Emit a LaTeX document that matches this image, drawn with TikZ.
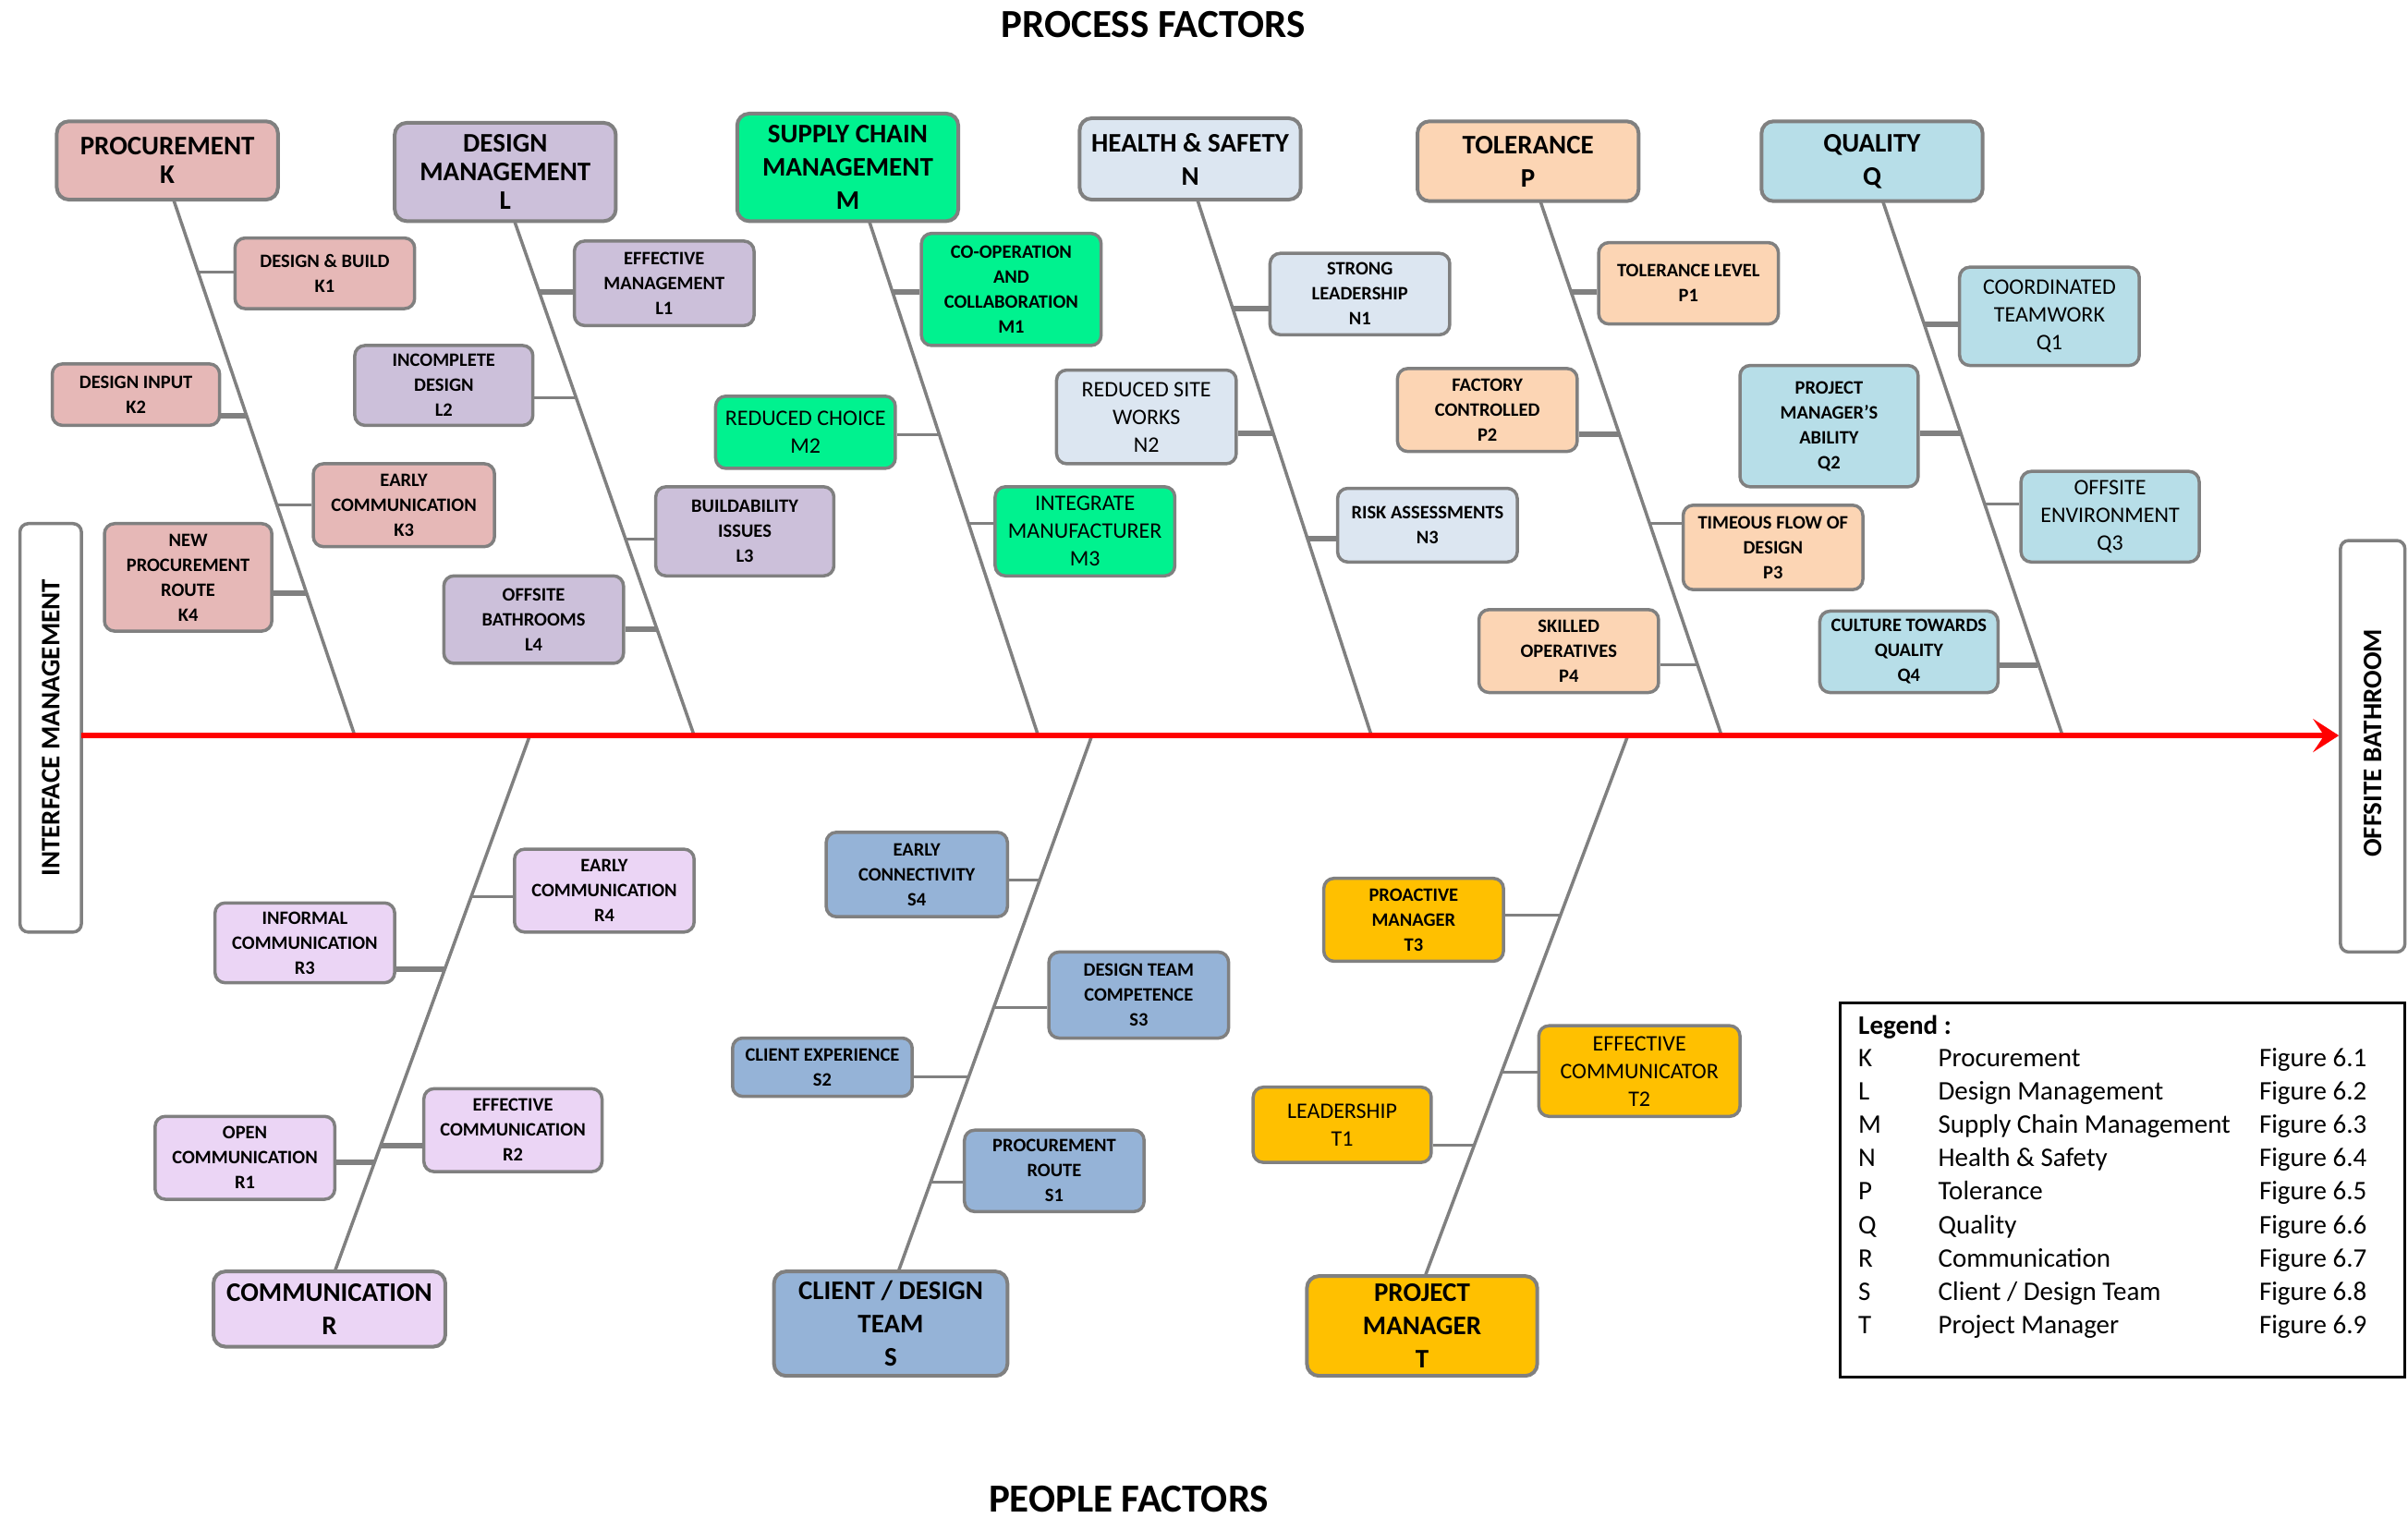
\documentclass[tikz,border=0pt]{standalone}
\usepackage{fontspec}
\setmainfont{Carlito}
\usetikzlibrary{arrows.meta}

\definecolor{bordergray}{HTML}{808080}
\definecolor{bonegray}{HTML}{808080}
\definecolor{kfill}{HTML}{E6B8B7}
\definecolor{lfill}{HTML}{CCC0DA}
\definecolor{mfill}{HTML}{00F28F}
\definecolor{nfill}{HTML}{DCE6F1}
\definecolor{pfill}{HTML}{FCD5B4}
\definecolor{qfill}{HTML}{B7DEE8}
\definecolor{rfill}{HTML}{EBD5F5}
\definecolor{sfill}{HTML}{95B3D7}
\definecolor{tfill}{HTML}{FFC000}

% a box given by its corners (x1,y1) and (x2,y2)
\newcommand\causebox[7]{%
  \node[#2, minimum width={(#5-#3)*1.662pt}, minimum height={(#6-#4)*1.662pt}]
    (#1) at ({(#3+#5)/2},{(#4+#6)/2}) {#7};}

\tikzset{
  box/.style={draw=bordergray, rounded corners=13pt, align=center, inner sep=0pt, text=black},
  mainbox/.style={box, line width=4pt, font=\fontsize{29}{31}\selectfont\bfseries},
  mainboxw/.style={box, line width=4pt, font=\fontsize{29}{36}\selectfont\bfseries},
  subs/.style={box, line width=3.5pt, rounded corners=11pt, font=\fontsize{20.5}{27}\selectfont\bfseries},
  subl/.style={box, line width=3.5pt, rounded corners=11pt, font=\fontsize{24}{30}\selectfont},
  sidebox/.style={box, line width=3.5pt, fill=white, rounded corners=9pt},
  bone/.style={draw=bonegray, line width=3.5pt},
  twig/.style={draw=bonegray, line width=3pt},
  twigthick/.style={draw=bonegray, line width=6pt},
  spine/.style={draw=red, line width=6pt, -{Stealth[length=28pt, width=36pt, inset=12pt]}},
  title/.style={inner sep=0pt, font=\fontsize{43}{46}\selectfont\bfseries},
  legtext/.style={anchor=base west, inner sep=0pt, font=\fontsize{29}{31}\selectfont},
}

\begin{document}
\begin{tikzpicture}[x=1.662pt, y=-1.662pt]
\useasboundingbox (0,0) rectangle (1568,988);

% titles
\node[title] (proc) at (751,16) {PROCESS FACTORS};
\node[title] (people) at (735,976) {PEOPLE FACTORS};

% head and tail boxes
\causebox{IM}{sidebox}{13}{341}{53}{607}{}
\node[rotate=90, font=\fontsize{29}{31}\selectfont\bfseries] (IMt) at (IM.center) {INTERFACE MANAGEMENT};
\causebox{OB}{sidebox}{1524}{352}{1566}{620}{}
\node[rotate=90, font=\fontsize{29}{31}\selectfont\bfseries] (OBt) at (1545,484) {OFFSITE BATHROOM};

% main causes
\causebox{K}{mainbox, fill=kfill}{37}{79}{181}{130}{PROCUREMENT\\K}
\causebox{L}{mainbox, fill=lfill}{257}{80}{401}{144}{DESIGN\\MANAGEMENT\\L}
\causebox{M}{mainboxw, fill=mfill}{480}{74}{624}{144}{SUPPLY CHAIN\\MANAGEMENT\\M}
\causebox{N}{mainboxw, fill=nfill}{703}{77}{847}{130}{HEALTH \& SAFETY\\N}
\causebox{P}{mainboxw, fill=pfill}{923}{79}{1067}{131}{TOLERANCE\\P}
\causebox{Q}{mainboxw, fill=qfill}{1147}{79}{1291}{131}{QUALITY\\Q}
\causebox{R}{mainboxw, fill=rfill}{139}{828}{290}{877}{COMMUNICATION\\R}
\causebox{S}{mainboxw, fill=sfill}{504}{828}{656}{896}{CLIENT / DESIGN\\TEAM\\S}
\causebox{T}{mainboxw, fill=tfill}{851}{831}{1001}{896}{PROJECT\\MANAGER\\T}

% bone ends
\coordinate (Ktop) at (113,130);  \coordinate (Kend) at (231,479);
\coordinate (Ltop) at (335,144);  \coordinate (Lend) at (452,479);
\coordinate (Mtop) at (566,144);  \coordinate (Mend) at (676,479);
\coordinate (Ntop) at (780,131);  \coordinate (Nend) at (893,479);
\coordinate (Ptop) at (1003,131); \coordinate (Pend) at (1121,479);
\coordinate (Qtop) at (1226,131); \coordinate (Qend) at (1343,479);
\coordinate (Rtop) at (218,828);  \coordinate (Rend) at (345,479);
\coordinate (Stop) at (585,828);  \coordinate (Send) at (711,479);
\coordinate (Ttop) at (928,831);  \coordinate (Tend) at (1060,479);

% spine
\coordinate (tail) at (53,479);
\coordinate (head) at (1523,479);

% sub-causes
\causebox{K1}{subs, fill=kfill}{153}{155}{270}{201}{DESIGN \& BUILD\\K1}
\causebox{K2}{subs, fill=kfill}{34}{237}{143}{277}{DESIGN INPUT\\K2}
\causebox{K3}{subs, fill=kfill}{204}{302}{322}{356}{EARLY\\COMMUNICATION\\K3}
\causebox{K4}{subs, fill=kfill}{68}{341}{177}{411}{NEW\\PROCUREMENT\\ROUTE\\K4}

\causebox{L1}{subs, fill=lfill}{374}{157}{491}{212}{EFFECTIVE\\MANAGEMENT\\L1}
\causebox{L2}{subs, fill=lfill}{231}{225}{347}{277}{INCOMPLETE\\DESIGN\\L2}
\causebox{L3}{subs, fill=lfill}{427}{317}{543}{375}{BUILDABILITY\\ISSUES\\L3}
\causebox{L4}{subs, fill=lfill}{289}{375}{406}{432}{OFFSITE\\BATHROOMS\\L4}

\causebox{M1}{subs, fill=mfill}{600}{152}{717}{225}{CO-OPERATION\\AND\\COLLABORATION\\M1}
\causebox{M2}{subl, fill=mfill}{466}{258}{583}{305}{REDUCED CHOICE\\M2}
\causebox{M3}{subl, fill=mfill}{648}{317}{765}{375}{INTEGRATE\\MANUFACTURER\\M3}

\causebox{N1}{subs, fill=nfill}{827}{165}{944}{218}{STRONG\\LEADERSHIP\\N1}
\causebox{N2}{subl, fill=nfill}{688}{241}{805}{302}{REDUCED SITE\\WORKS\\N2}
\causebox{N3}{subs, fill=nfill}{871}{318}{988}{366}{RISK ASSESSMENTS\\N3}

\causebox{P1}{subs, fill=pfill}{1041}{158}{1158}{211}{TOLERANCE LEVEL\\P1}
\causebox{P2}{subs, fill=pfill}{910}{240}{1027}{294}{FACTORY\\CONTROLLED\\P2}
\causebox{P3}{subs, fill=pfill}{1096}{329}{1213}{384}{TIMEOUS FLOW OF\\DESIGN\\P3}
\causebox{P4}{subs, fill=pfill}{963}{397}{1080}{451}{SKILLED\\OPERATIVES\\P4}

\causebox{Q1}{subl, fill=qfill}{1276}{174}{1393}{238}{COORDINATED\\TEAMWORK\\Q1}
\causebox{Q2}{subs, fill=qfill}{1133}{238}{1249}{317}{PROJECT\\MANAGER’S\\ABILITY\\Q2}
\causebox{Q3}{subl, fill=qfill}{1316}{307}{1432}{366}{OFFSITE\\ENVIRONMENT\\Q3}
\causebox{Q4}{subs, fill=qfill}{1185}{398}{1301}{451}{CULTURE TOWARDS\\QUALITY\\Q4}

\causebox{R4}{subs, fill=rfill}{335}{553}{452}{607}{EARLY\\COMMUNICATION\\R4}
\causebox{R3}{subs, fill=rfill}{140}{588}{257}{640}{INFORMAL\\COMMUNICATION\\R3}
\causebox{R2}{subs, fill=rfill}{276}{709}{392}{763}{EFFECTIVE\\COMMUNICATION\\R2}
\causebox{R1}{subs, fill=rfill}{101}{727}{218}{781}{OPEN\\COMMUNICATION\\R1}

\causebox{S4}{subs, fill=sfill}{538}{542}{656}{597}{EARLY\\CONNECTIVITY\\S4}
\causebox{S3}{subs, fill=sfill}{683}{620}{800}{676}{DESIGN TEAM\\COMPETENCE\\S3}
\causebox{S2}{subs, fill=sfill}{477}{676}{594}{714}{CLIENT EXPERIENCE\\S2}
\causebox{S1}{subs, fill=sfill}{628}{736}{745}{789}{PROCUREMENT\\ROUTE\\S1}

\causebox{T3}{subs, fill=tfill}{862}{572}{979}{626}{PROACTIVE\\MANAGER\\T3}
\causebox{T2}{subl, fill=tfill}{1002}{668}{1133}{727}{EFFECTIVE\\COMMUNICATOR\\T2}
\causebox{T1}{subl, fill=tfill}{816}{708}{932}{757}{LEADERSHIP\\T1}

% joints on the bones
\coordinate (k1) at (129,177);  \coordinate (k2) at (161,271);
\coordinate (k3) at (180,329);  \coordinate (k4) at (199,386);
\coordinate (l1) at (351,190);  \coordinate (l2) at (375,259);
\coordinate (l3) at (407,351);  \coordinate (l4) at (428,410);
\coordinate (m1) at (581,190);  \coordinate (m2) at (612,283);
\coordinate (m3) at (631,341);
\coordinate (n1) at (803,201);  \coordinate (n2) at (829,282);
\coordinate (n3) at (852,351);
\coordinate (p1) at (1023,190); \coordinate (p2) at (1054,283);
\coordinate (p3) at (1074,341); \coordinate (p4) at (1105,433);
\coordinate (q1) at (1253,211); \coordinate (q2) at (1277,282);
\coordinate (q3) at (1292,328); \coordinate (q4) at (1327,433);
\coordinate (r4) at (307,584);  \coordinate (r3) at (290,631);
\coordinate (r2) at (248,746);  \coordinate (r1) at (244,757);
\coordinate (s4) at (677,573);  \coordinate (s3) at (647,656);
\coordinate (s2) at (631,701);  \coordinate (s1) at (606,770);
\coordinate (t3) at (1016,596); \coordinate (t2) at (978,698);
\coordinate (t1) at (960,746);

% bones
\foreach \c in {K,L,M,N,P,Q,R,S,T}
  \draw[bone] (\c top) -- (\c end);

% twigs
\draw[twig]      (k1) -- (k1 -| K1.west);
\draw[twigthick] (k2) -- (k2 -| K2.east);
\draw[twig]      (k3) -- (k3 -| K3.west);
\draw[twigthick] (k4) -- (k4 -| K4.east);
\draw[twigthick] (l1) -- (l1 -| L1.west);
\draw[twig]      (l2) -- (l2 -| L2.east);
\draw[twig]      (l3) -- (l3 -| L3.west);
\draw[twigthick] (l4) -- (l4 -| L4.east);
\draw[twigthick] (m1) -- (m1 -| M1.west);
\draw[twig]      (m2) -- (m2 -| M2.east);
\draw[twig]      (m3) -- (m3 -| M3.west);
\draw[twigthick] (n1) -- (n1 -| N1.west);
\draw[twigthick] (n2) -- (n2 -| N2.east);
\draw[twigthick] (n3) -- (n3 -| N3.west);
\draw[twigthick] (p1) -- (p1 -| P1.west);
\draw[twigthick] (p2) -- (p2 -| P2.east);
\draw[twig]      (p3) -- (p3 -| P3.west);
\draw[twig]      (p4) -- (p4 -| P4.east);
\draw[twigthick] (q1) -- (q1 -| Q1.west);
\draw[twigthick] (q2) -- (q2 -| Q2.east);
\draw[twig]      (q3) -- (q3 -| Q3.west);
\draw[twigthick] (q4) -- (q4 -| Q4.east);
\draw[twig]      (r4) -- (r4 -| R4.west);
\draw[twigthick] (r3) -- (r3 -| R3.east);
\draw[twigthick] (r2) -- (r2 -| R2.west);
\draw[twigthick] (r1) -- (r1 -| R1.east);
\draw[twig]      (s4) -- (s4 -| S4.east);
\draw[twig]      (s3) -- (s3 -| S3.west);
\draw[twig]      (s2) -- (s2 -| S2.east);
\draw[twig]      (s1) -- (s1 -| S1.west);
\draw[twig]      (t3) -- (t3 -| T3.east);
\draw[twig]      (t2) -- (t2 -| T2.west);
\draw[twig]      (t1) -- (t1 -| T1.east);

% spine
\draw[spine] (tail) -- (head);

% legend
\causebox{LG}{draw=black, line width=3pt, inner sep=0pt}{1198}{653}{1566}{897}{}
\node[legtext, font=\fontsize{29}{31}\selectfont\bfseries] (lgh) at (1210,673.5) {Legend :};
\foreach \k/\d/\f [count=\i from 0] in
  {K/{Procurement}/6.1, L/{Design Management}/6.2, M/{Supply Chain Management}/6.3,
   N/{Health \& Safety}/6.4, P/{Tolerance}/6.5, Q/{Quality}/6.6, R/{Communication}/6.7,
   S/{Client / Design Team}/6.8, T/{Project Manager}/6.9} {
  \node[legtext] (lk\i) at (1210,{694.5+21.75*\i}) {\k};
  \node[legtext] (ld\i) at (1262,{694.5+21.75*\i}) {\d};
  \node[legtext] (lf\i) at (1471,{694.5+21.75*\i}) {Figure \f};
}
\end{tikzpicture}
\end{document}
